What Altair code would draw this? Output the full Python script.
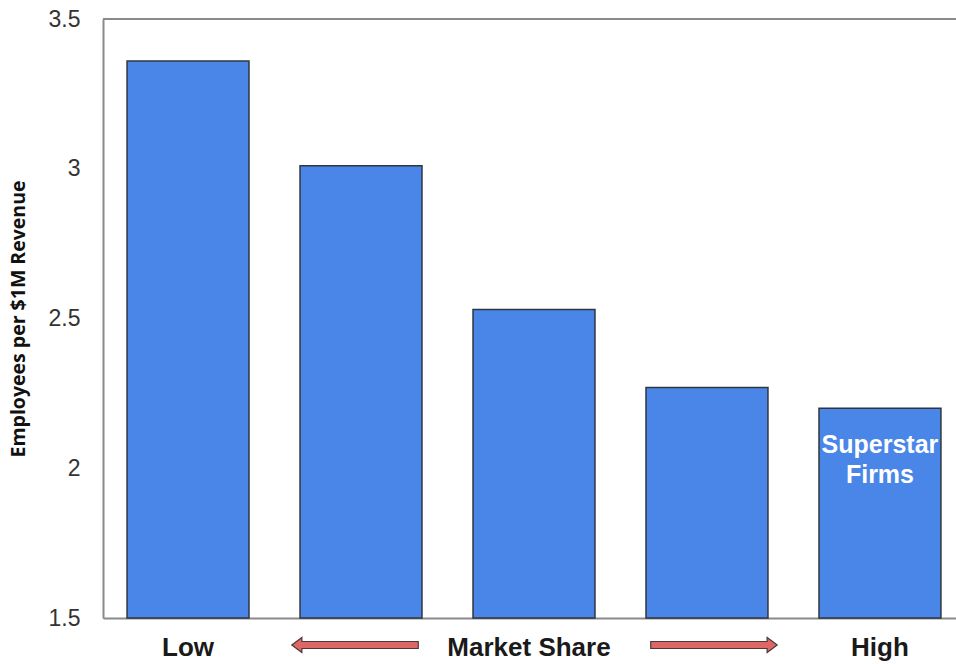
import altair as alt
import pandas as pd

# ---- data ----
groups = ["Q1", "Q2", "Q3", "Q4", "Q5"]
values = [3.36, 3.01, 2.53, 2.27, 2.20]
x_labels = ["Low", "", "Market Share", "", "High"]
notes = ["", "", "", "", "Superstar\nFirms"]
y_ticks = [1.5, 2, 2.5, 3, 3.5]
arrow_left_at = ["Q2"]
arrow_right_at = ["Q4"]

df = pd.DataFrame({"group": groups, "value": values, "note": notes})

label_map = "{" + ",".join(f"'{g}':'{l}'" for g, l in zip(groups, x_labels)) + "}"

W, H = 853, 599
FRAME = "#8a8a8a"

x_scale = alt.Scale(domain=groups, paddingInner=0.295, paddingOuter=0.113, align=0.615)
y_scale = alt.Scale(domain=[1.5, 3.5], zero=False, nice=False)

x_enc = alt.X(
    "group:N", scale=x_scale, sort=groups,
    axis=alt.Axis(
        title=None, labelExpr=f"{label_map}[datum.value]", labelAngle=0,
        ticks=False, domainColor=FRAME, domainWidth=2,
        labelFont="Liberation Sans", labelFontSize=26, labelFontWeight="bold",
        labelColor="#1a1a1a", labelBaseline="middle", labelPadding=29,
        labelOffset={"condition": {"test": "datum.value === 'Q3'", "value": -5}, "value": 0},
    ),
)

bars = alt.Chart(df).mark_bar(
    color="#4a86e8", stroke="#2f3640", strokeWidth=1.5
).encode(
    x=x_enc,
    y=alt.Y(
        "value:Q", scale=y_scale,
        axis=alt.Axis(
            values=y_ticks, format=".1~f", title="Employees per $1M Revenue",
            grid=False, ticks=False,
            domainColor=FRAME, domainWidth=2,
            labelFont="Liberation Sans", labelFontSize=23, labelColor="#333333",
            labelPadding=23,
            titleFont="Open Sans", titleFontSize=19.5, titleFontWeight="bold",
            titleColor="#111111", titleX=-85, titleBaseline="middle",
        ),
    ),
    y2=alt.datum(1.5),
)

top_rule = alt.Chart(df).mark_rule(color=FRAME, strokeWidth=2).encode(
    y=alt.datum(3.5)
)

text = alt.Chart(df).mark_text(
    color="white", font="Liberation Sans", fontSize=25, fontWeight="bold",
    baseline="top", dy=25, lineBreak="\n", lineHeight=30,
).encode(
    x=alt.X("group:N", scale=x_scale, sort=groups),
    y=alt.Y("value:Q", scale=y_scale),
    text="note:N",
)

left_path = "M -1 0 L -0.84 -0.12 L -0.84 -0.055 L 1 -0.055 L 1 0.055 L -0.84 0.055 L -0.84 0.12 Z"
right_path = "M 1 0 L 0.84 -0.12 L 0.84 -0.055 L -1 -0.055 L -1 0.055 L 0.84 0.055 L 0.84 0.12 Z"

arrow_style = dict(filled=True, fill="#e06666", stroke="#4a3a3a", strokeWidth=1.2,
                   opacity=1, size=16000)

left_arrow = alt.Chart(pd.DataFrame({"group": arrow_left_at})).mark_point(
    shape=left_path, xOffset=-6, **arrow_style
).encode(
    x=alt.X("group:N", scale=x_scale, sort=groups),
    y=alt.value(626),
)

right_arrow = alt.Chart(pd.DataFrame({"group": arrow_right_at})).mark_point(
    shape=right_path, xOffset=7, **arrow_style
).encode(
    x=alt.X("group:N", scale=x_scale, sort=groups),
    y=alt.value(626),
)

chart = alt.layer(bars, top_rule, text, left_arrow, right_arrow).properties(
    width=W, height=H,
    autosize=alt.AutoSizeParams(type="none"),
    padding={"left": 103, "top": 19, "right": 0, "bottom": 46},
).configure_view(stroke=None).configure(background="white")

chart.save("out.html", embed_options={"renderer": "svg", "actions": False})
